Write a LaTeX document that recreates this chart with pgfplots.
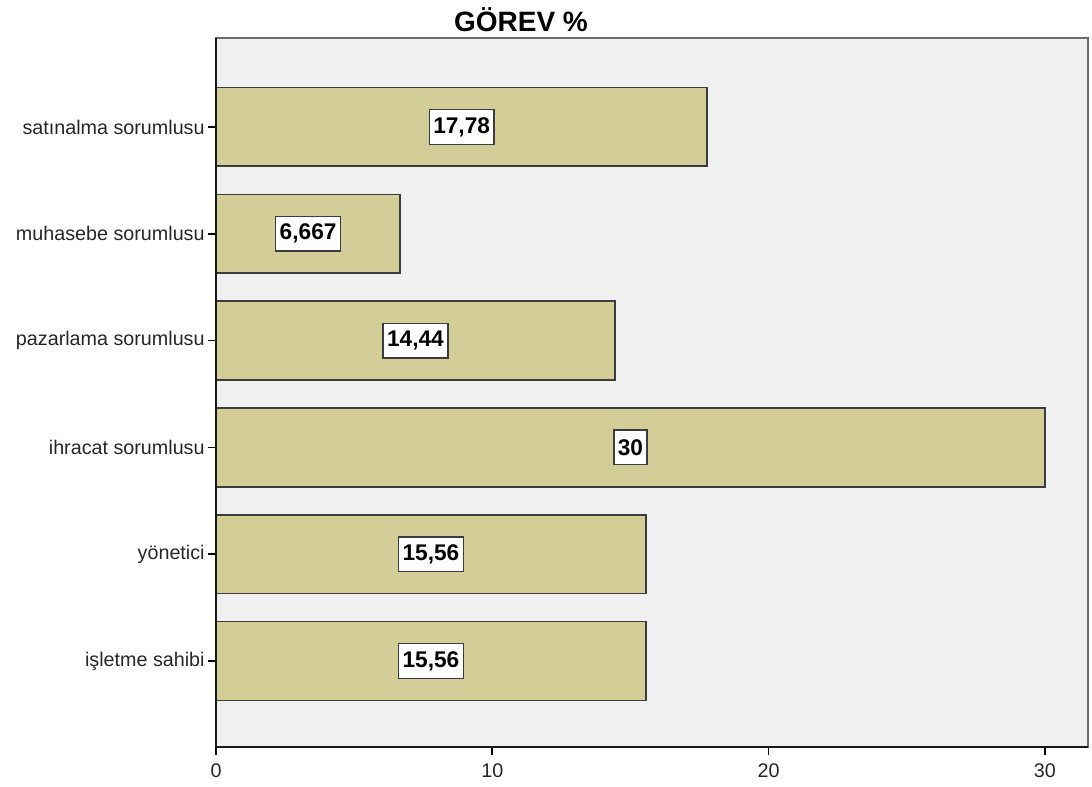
\documentclass[border=0pt]{standalone}
\usepackage{fontspec}
\setmainfont{Liberation Sans}
\usepackage{pgfplots}
\usepackage{pgfplotstable}
\pgfplotsset{compat=1.18}
\definecolor{barfill}{RGB}{211,206,151}
\definecolor{bgcol}{RGB}{240,240,240}
\definecolor{edgecol}{RGB}{60,60,60}
\pgfplotstableread{
y val
0 15.56
1 15.56
2 30
3 14.44
4 6.667
5 17.78
}\bars
\pgfplotstableread{
x y lab
7.78 0 15,56
7.78 1 15,56
15 2 30
7.22 3 14,44
3.3335 4 6,667
8.89 5 17,78
}\labs
\begin{document}
\begin{tikzpicture}
\path[use as bounding box] (0pt,0pt) rectangle (819pt,590.25pt);
\node[font=\bfseries\fontsize{21}{23}\selectfont, anchor=center] at (390.75pt,575.25pt) {GÖREV \%};
\begin{axis}[
  at={(162pt,30pt)}, anchor=south west,
  scale only axis, width=654pt, height=531.75pt,
  xmin=0, xmax=31.56, ymin=-0.805, ymax=5.833,
  xtick={0,10,20,30},
  ytick={0,1,2,3,4,5},
  yticklabels={işletme sahibi, yönetici, ihracat sorumlusu, pazarlama sorumlusu, muhasebe sorumlusu, satınalma sorumlusu},
  xtick pos=bottom, ytick pos=left,
  tick align=outside,
  major tick length=6pt,
  x tick style={line width=1.3pt, black},
  y tick style={line width=1.3pt, black},
  tick label style={font=\fontsize{14.8}{16}\selectfont, text=black!85},
  /pgf/number format/assume math mode=true,
  xticklabel style={yshift=-3pt},
  yticklabel style={xshift=1pt},
  axis background/.style={fill=bgcol},
  axis line style={draw=gray!85!black, line width=1.5pt},
  clip=false,
]
\addplot[xbar, bar width=59pt, fill=barfill, draw=edgecol, line width=1.2pt] table[x=val, y=y] {\bars};
\addplot[only marks, mark=none, nodes near coords, point meta=explicit symbolic,
  every node near coord/.style={anchor=center, fill=white, draw=edgecol, line width=1.1pt,
    font=\bfseries\fontsize{17}{19}\selectfont, inner xsep=3pt, minimum height=26pt, text=black}]
  table[x=x, y=y, meta=lab] {\labs};
\draw[black!90, line width=1.6pt] (rel axis cs:0,1) -- (rel axis cs:0,0) -- (rel axis cs:1,0);
\end{axis}
\end{tikzpicture}
\end{document}
